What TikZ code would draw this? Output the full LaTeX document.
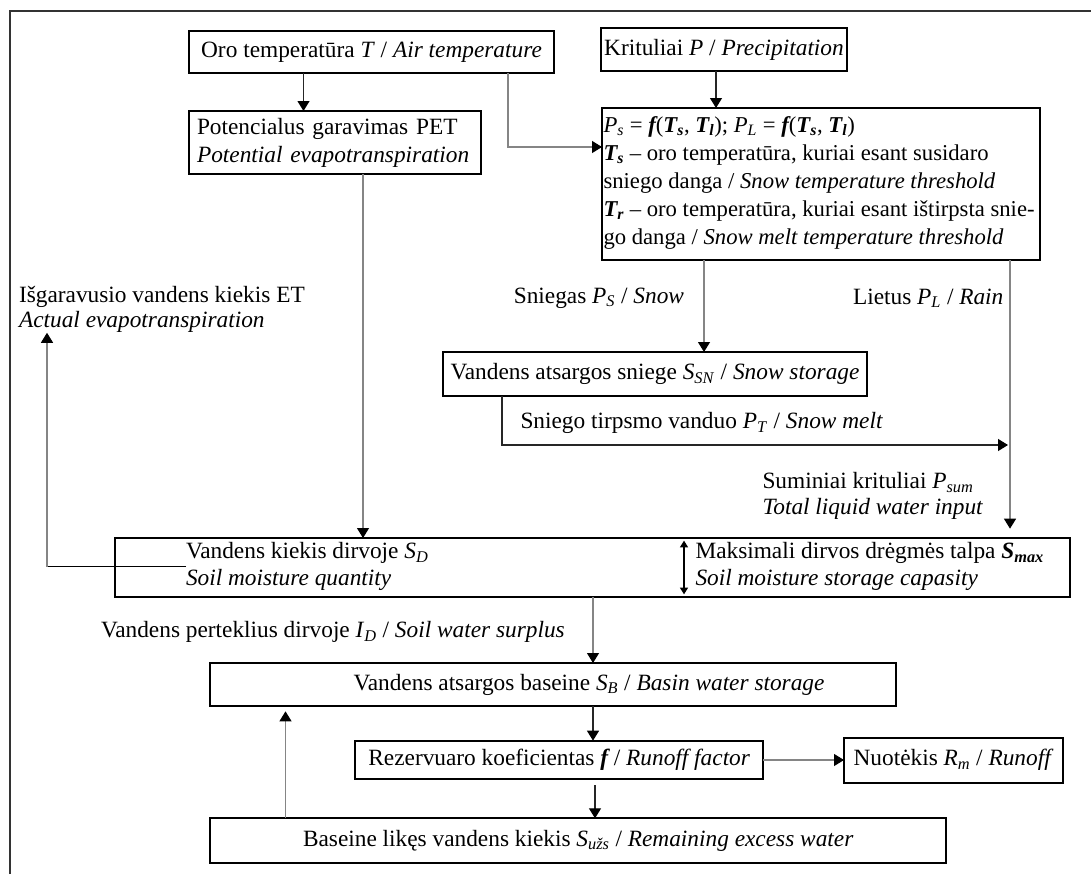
\documentclass[tikz,border=0pt]{standalone}
\usepackage{fontspec}
\setmainfont{Liberation Serif}
\usetikzlibrary{arrows.meta,calc}
\newcommand{\isub}[1]{\textsubscript{\textit{#1}}}
\newcommand{\bfit}[1]{{\bfseries\itshape #1}}
\begin{document}
\begin{tikzpicture}[x=0.75pt,y=-0.75pt,
  every node/.style={font=\fontsize{17.5}{19}\selectfont, inner sep=0pt, outer sep=0pt},
  box/.style={draw=black, line width=1.5pt},
  lbl/.style={align=left},
  conn/.style={draw=black!48, line width=0.9pt, -{Triangle[length=7.5pt,width=9pt,color=black]}},
  dconn/.style={draw=black!85, line width=0.9pt, -{Triangle[length=7.5pt,width=9pt,color=black]}},
  dbl/.style={draw=black, line width=0.9pt, {Triangle[length=5pt,width=6pt]}-{Triangle[length=5pt,width=6pt]}}
]
\useasboundingbox (0,0) rectangle (1091,874);
% frame
\draw[line width=1.2pt, black!80] (10,874) -- (10,11) -- (1091,11);

% boxes
\node[box, minimum width=273.75pt, minimum height=31.5pt] (air) at (371.5,52)
  {Oro temperatūra \textit{T} / \textit{Air temperature}};
\node[box, minimum width=184.5pt, minimum height=32.25pt] (prec) at (724,49.5)
  {Krituliai \textit{P} / \textit{Precipitation}};
\node[box, align=left, text width=207pt, inner xsep=6pt, minimum height=47.25pt,
  font=\fontsize{17.5}{21}\selectfont] (pet) at (335,142.5)
  {Potencialus garavimas PET\\\textit{Potential evapotranspiration}};
\node[box, minimum width=328.5pt, minimum height=114pt] (form) at (821,184) {};
\node[lbl, anchor=west, font=\fontsize{17}{21}\selectfont] (formtxt) at (603.5,183)
  {\textit{P}\isub{s} = \bfit{f}(\bfit{T}\textsubscript{\bfit{s}}, \bfit{T}\textsubscript{\bfit{l}}); \textit{P}\isub{L} = \bfit{f}(\bfit{T}\textsubscript{\bfit{s}}, \bfit{T}\textsubscript{\bfit{l}})\\
   \bfit{T}\textsubscript{\bfit{s}} – oro temperatūra, kuriai esant susidaro\\
   sniego danga / \textit{Snow temperature threshold}\\
   \bfit{T}\textsubscript{\bfit{r}} – oro temperatūra, kuriai esant ištirpsta snie-\\
   go danga / \textit{Snow melt temperature threshold}};
\node[box, minimum width=318.4pt, minimum height=33pt] (snow) at (655,374)
  {Vandens atsargos sniege \textit{S}\isub{SN} / \textit{Snow storage}};
\node[box, minimum width=716.25pt, minimum height=44.25pt] (soil) at (592,567.5) {};
\node[lbl, anchor=west, font=\fontsize{17.5}{20}\selectfont] (sdtxt) at (186,566.5)
  {Vandens kiekis dirvoje \textit{S}\isub{D}\\\textit{Soil moisture quantity}};
\node[lbl, anchor=west, font=\fontsize{17.5}{20}\selectfont] (smax) at (695.5,566.5)
  {Maksimali dirvos drėgmės talpa \bfit{S}\textsubscript{\bfit{max}}\\\textit{Soil moisture storage capasity}};
\node[box, minimum width=514.2pt, minimum height=32.25pt] (basin) at (552.8,684.5) {};
\node (basintxt) at (589,684.5)
  {Vandens atsargos baseine \textit{S}\isub{B} / \textit{Basin water storage}};
\node[box, minimum width=306.3pt, minimum height=29pt] (res) at (559.2,760)
  {Rezervuaro koeficientas \bfit{f} / \textit{Runoff factor}};
\node[box, minimum width=164.25pt, minimum height=33.75pt] (runoff) at (953.5,760)
  {Nuotėkis \textit{R}\isub{m} / \textit{Runoff}};
\node[box, minimum width=552.3pt, minimum height=33.75pt] (remain) at (578.2,840.8)
  {Baseine likęs vandens kiekis \textit{S}\isub{užs} / \textit{Remaining excess water}};

% labels
\node[anchor=east] (lsnow) at (684,298) {Sniegas \textit{P}\isub{S} / \textit{Snow}};
\node[anchor=west] (lrain) at (853,298) {Lietus \textit{P}\isub{L} / \textit{Rain}};
\node[lbl, anchor=west] (et) at (19,309.5)
  {Išgaravusio vandens kiekis ET\\\textit{Actual evapotranspiration}};
\node[anchor=west] (lmelt) at (520.5,423) {Sniego tirpsmo vanduo \textit{P}\isub{T} / \textit{Snow melt}};
\node[lbl, anchor=west] (lsum) at (762.5,496)
  {Suminiai krituliai \textit{P}\isub{sum}\\\textit{Total liquid water input}};
\node[anchor=west] (lsur) at (101,632)
  {Vandens perteklius dirvoje \textit{I}\isub{D} / \textit{Soil water surplus}};

% connector coordinates
\coordinate (a1) at (303.5,0);
\coordinate (a2) at (508,147);
\coordinate (a3) at (716,0);
\coordinate (a4) at (363,0);
\coordinate (a5) at (704,0);
\coordinate (a6) at (1010,0);
\coordinate (m1) at (502,445);
\coordinate (m2) at (1008,445);
\coordinate (d1) at (684,0);
\coordinate (b1) at (593,0);
\coordinate (b2) at (595,0);
\coordinate (b3) at (285.5,0);
\coordinate (e1) at (47,0);

% connectors
\draw[dconn] (air.south -| a1) -- (pet.north -| a1);
\draw[conn] (air.south -| a2) |- (form.west |- a2);
\draw[dconn] (prec.south -| a3) -- (form.north -| a3);
\draw[conn] (pet.south -| a4) -- (soil.north -| a4);
\draw[conn] (form.south -| a5) -- (snow.north -| a5);
\draw[conn, shorten >=7pt] (form.south -| a6) -- (soil.north -| a6);
\draw[dconn] (snow.south -| m1) -- (m1) -- (m2);
\draw[dbl, shorten <=2pt, shorten >=2pt] (soil.north -| d1) -- (soil.south -| d1);
\draw[draw=black, line width=0.9pt] (sdtxt.west) -- (sdtxt.west -| e1);
\draw[conn] (sdtxt.west -| e1) -- (et.south -| e1);
\draw[conn] (soil.south -| b1) -- (basin.north -| b1);
\draw[dconn] (basin.south -| b1) -- (res.north -| b1);
\draw[conn] (res.east) -- (runoff.west);
\draw[dconn, shorten <=4.5pt] (res.south -| b2) -- (remain.north -| b2);
\draw[conn, shorten >=4pt] (remain.north -| b3) -- (basin.south -| b3);
\end{tikzpicture}
\end{document}
